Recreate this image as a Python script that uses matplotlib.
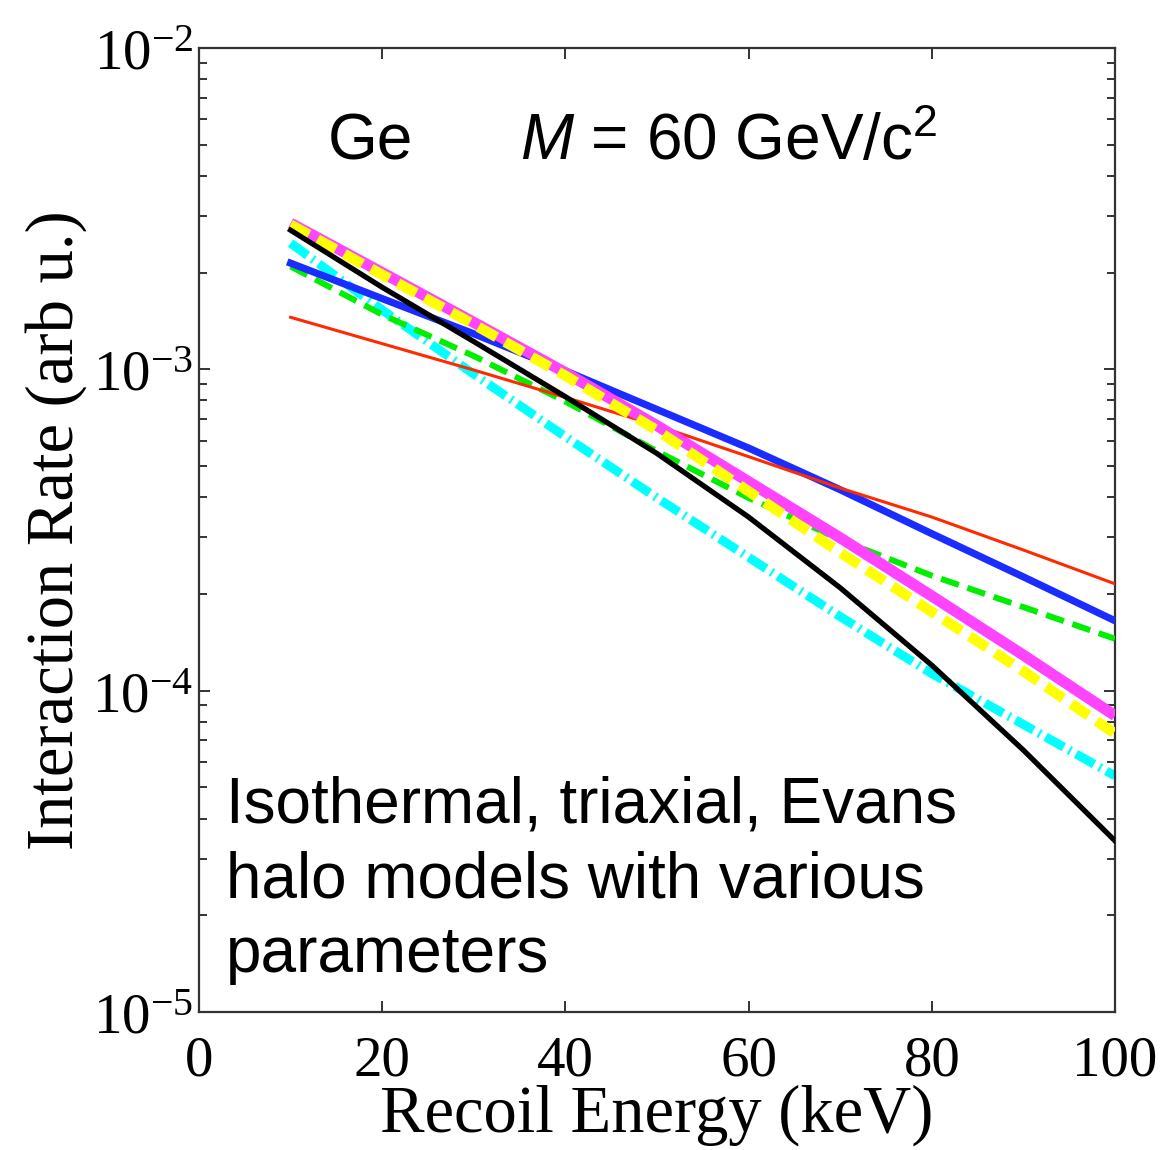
import matplotlib
matplotlib.use("Agg")
import matplotlib.pyplot as plt
from matplotlib.ticker import FixedLocator, FuncFormatter, LogLocator, NullLocator

plt.rcParams['mathtext.fontset'] = 'custom'
plt.rcParams['mathtext.rm'] = 'Liberation Serif'
plt.rcParams['mathtext.sf'] = 'Liberation Sans'
plt.rcParams['mathtext.it'] = 'Liberation Sans:italic'
plt.rcParams['lines.scale_dashes'] = False

# ---- data ----
energy_keV = [10, 20, 30, 40, 50, 60, 70, 80, 90, 100]
rate_red = [1.452e-3, 1.202e-3, 9.95e-4, 8.18e-4, 6.68e-4, 5.35e-4, 4.27e-4, 3.47e-4, 2.74e-4, 2.15e-4]
rate_blue = [2.14e-3, 1.66e-3, 1.29e-3, 9.89e-4, 7.50e-4, 5.69e-4, 4.22e-4, 3.08e-4, 2.26e-4, 1.65e-4]
rate_green = [2.09e-3, 1.48e-3, 1.10e-3, 7.94e-4, 5.56e-4, 3.98e-4, 2.95e-4, 2.28e-4, 1.82e-4, 1.45e-4]
rate_magenta = [2.85e-3, 2.00e-3, 1.40e-3, 9.77e-4, 6.68e-4, 4.47e-4, 2.99e-4, 1.97e-4, 1.29e-4, 8.36e-5]
rate_yellow = [2.82e-3, 1.97e-3, 1.38e-3, 9.55e-4, 6.46e-4, 4.17e-4, 2.69e-4, 1.76e-4, 1.15e-4, 7.35e-5]
rate_cyan = [2.47e-3, 1.53e-3, 9.66e-4, 6.17e-4, 3.98e-4, 2.60e-4, 1.70e-4, 1.13e-4, 7.85e-5, 5.43e-5]
rate_black = [2.71e-3, 1.80e-3, 1.22e-3, 8.22e-4, 5.47e-4, 3.47e-4, 2.09e-4, 1.20e-4, 6.53e-5, 3.41e-5]

x_ticks = [0, 20, 40, 60, 80, 100]
y_ticks = [1e-5, 1e-4, 1e-3, 1e-2]
y_tick_labels = [r'$\mathrm{10^{-5}}$', r'$\mathrm{10^{-4}}$', r'$\mathrm{10^{-3}}$', r'$\mathrm{10^{-2}}$']

fig = plt.figure(figsize=(11.61, 11.50), dpi=100)
ax = fig.add_axes([199/1161, 1 - 1012/1150, (1115-199)/1161, (1012-48)/1150])

ax.plot(energy_keV, rate_cyan, color='#00ffff', lw=6.5, dashes=(15.0, 4.2, 1.6, 4.2), dash_capstyle='butt', zorder=2)
ax.plot(energy_keV, rate_green, color='#00ee00', lw=4.3, dashes=(13.5, 6.5), dash_capstyle='butt', zorder=3)
ax.plot(energy_keV, rate_blue, color='#1a2cff', lw=5.2, zorder=4)
ax.plot(energy_keV, rate_red, color='#ff2a00', lw=2.2, zorder=5)
ax.plot(energy_keV, rate_magenta, color='#ff44ff', lw=8.0, solid_capstyle='butt', solid_joinstyle='round', zorder=6)
ax.plot(energy_keV, rate_yellow, color='#ffff00', lw=7.5, dashes=(15.0, 7.0), dash_capstyle='butt', zorder=7)
ax.plot(energy_keV, rate_black, color='black', lw=3.8, zorder=8)

ax.set_yscale('log')
ax.set_xlim(0, 100)
ax.set_ylim(1e-5, 1e-2)

ax.xaxis.set_major_locator(FixedLocator(x_ticks))
ax.xaxis.set_minor_locator(NullLocator())
ax.set_xticklabels([str(t) for t in x_ticks])
ax.yaxis.set_major_locator(FixedLocator(y_ticks))
ax.yaxis.set_minor_locator(LogLocator(base=10, subs=range(2, 10)))
ax.set_yticklabels(y_tick_labels)
ax.yaxis.set_minor_formatter(FuncFormatter(lambda v, p: ''))

for s in ax.spines.values():
    s.set_color('#333333')
    s.set_linewidth(1.6)

ax.tick_params(which='both', direction='in', top=True, right=True, color='#333333', width=1.4)
ax.tick_params(which='major', length=8)
ax.tick_params(which='minor', length=5.5)
ax.tick_params(axis='x', which='major', labelsize=41, pad=17)
ax.tick_params(axis='y', which='major', labelsize=41, pad=4)
for lab in ax.get_xticklabels():
    lab.set_fontfamily('Liberation Serif')

ax.set_xlabel('Recoil Energy (keV)', fontsize=48, family='Liberation Serif', labelpad=-2)
ax.set_ylabel('Interaction Rate (arb u.)', fontsize=48, family='Liberation Serif', labelpad=4)

ax.text(0.141, 0.884, 'Ge', transform=ax.transAxes, fontsize=46, family='Liberation Sans', va='baseline', ha='left')
ax.text(0.350, 0.884, r'$M$ = 60 GeV/c$^{\mathsf{2}}$', transform=ax.transAxes, fontsize=46, family='Liberation Sans', va='baseline', ha='left')

ax.text(0.0295, 0.197, 'Isothermal, triaxial, Evans', transform=ax.transAxes, fontsize=46, family='Liberation Sans', va='baseline', ha='left')
ax.text(0.0295, 0.119, 'halo models with various', transform=ax.transAxes, fontsize=46, family='Liberation Sans', va='baseline', ha='left')
ax.text(0.0295, 0.0415, 'parameters', transform=ax.transAxes, fontsize=46, family='Liberation Sans', va='baseline', ha='left')

fig.savefig('out.png', dpi=100)
